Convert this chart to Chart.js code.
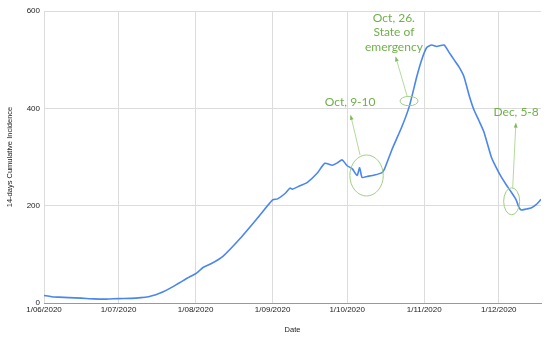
<!DOCTYPE html>
<html>
<head>
<meta charset="utf-8">
<script src="https://cdn.jsdelivr.net/npm/chart.js@4/dist/chart.umd.min.js"></script>
<style>
  html, body { margin: 0; padding: 0; background: #fff; }
  #wrap { width: 550px; height: 338px; }
</style>
</head>
<body>
<div id="wrap"><canvas id="grafico" width="550" height="338"></canvas></div>
<script>
// Days since 1 June 2020
const days = [0, 3, 6, 10, 15, 20, 25, 30, 35, 39, 42, 45, 48, 51, 54, 56, 59, 61, 62, 64, 67,
  72, 79, 86, 92, 94, 97, 99, 100, 103, 106, 110, 113, 116, 118, 120, 122, 124, 126, 127, 128,
  130, 133, 136, 137, 140, 144, 147, 150, 152, 154, 156, 158, 161, 163, 165, 167, 169, 171, 173,
  175, 177, 180, 182, 184, 186, 188, 190, 191, 192, 194, 196, 198, 200];
const incidence = [15.5, 13, 12, 11, 10, 8.5, 8, 9, 9.5, 11, 13, 17, 23, 31, 40, 46, 55, 60, 64, 73, 80,
  96, 133, 175, 212, 214, 225, 236, 234, 241, 248, 267, 287, 283, 288, 294, 282, 276, 262, 278, 258,
  260, 263, 268, 275, 315, 362, 404, 465, 500, 525, 530, 527, 530, 515, 500, 485, 465, 428, 397,
  375, 352, 300, 278, 259, 243, 228, 212, 198, 191, 193, 195, 202, 213];

// Eje x: inicio de cada mes
const monthStarts = [0, 30, 61, 92, 122, 153, 183];
const monthLabels = ['1/06/2020', '1/07/2020', '1/08/2020', '1/09/2020', '1/10/2020', '1/11/2020', '1/12/2020'];
const yTicks = [0, 200, 400, 600];

// Notas en verde (posiciones en coordenadas de datos)
const notes = [
  { lines: ['Oct, 9-10'], at: [123.2, 413], from: [127.2, 304], to: [123.4, 386], ell: [129.8, 262, 16.7, 20.5] },
  { lines: ['Oct, 26.', 'State of', 'emergency'], at: [140.8, 586], from: [146.2, 424], to: [141.5, 506], ell: [146.9, 415, 9, 4.7] },
  { lines: ['Dec, 5-8'], at: [190, 393], from: [188.6, 236], to: [189.9, 370], ell: [188.2, 209, 8, 13.5] }
];

const notesPlugin = {
  id: 'notas',
  afterDatasetsDraw(chart) {
    const c = chart.ctx, xs = chart.scales.x, ys = chart.scales.y;
    const px = d => xs.getPixelForValue(d), py = v => ys.getPixelForValue(v);
    c.save();
    notes.forEach(n => {
      // elipse
      c.strokeStyle = '#9fcf7f';
      c.lineWidth = 1;
      c.beginPath();
      c.ellipse(px(n.ell[0]), py(n.ell[1]), n.ell[2], n.ell[3], 0, 0, Math.PI * 2);
      c.stroke();
      // flecha
      const x1 = px(n.from[0]), y1 = py(n.from[1]), x2 = px(n.to[0]), y2 = py(n.to[1]);
      c.strokeStyle = '#b5d99c';
      c.beginPath(); c.moveTo(x1, y1); c.lineTo(x2, y2); c.stroke();
      const a = Math.atan2(y2 - y1, x2 - x1);
      c.fillStyle = '#7fb85a';
      c.beginPath();
      c.moveTo(x2, y2);
      c.lineTo(x2 - 5 * Math.cos(a - 0.4), y2 - 5 * Math.sin(a - 0.4));
      c.lineTo(x2 - 5 * Math.cos(a + 0.4), y2 - 5 * Math.sin(a + 0.4));
      c.closePath(); c.fill();
      // texto
      c.fillStyle = '#6fb04a';
      c.font = '12px Lato';
      c.textAlign = 'center';
      c.textBaseline = 'middle';
      const cx = px(n.at[0]);
      let cy = py(n.at[1]);
      n.lines.forEach(t => { c.fillText(t, cx, cy); cy += 14.5; });
    });
    c.restore();
  }
};

new Chart(document.getElementById('grafico'), {
  type: 'line',
  data: {
    datasets: [{
      label: '14-days Cumulative Incidence',
      data: days.map((d, i) => ({ x: d, y: incidence[i] })),
      borderColor: '#4a86f0',
      borderWidth: 1.6,
      pointRadius: 0,
      tension: 0.2,
      fill: false
    }]
  },
  options: {
    responsive: false,
    animation: false,
    layout: { padding: { left: 0, right: 9, top: 11, bottom: 0 } },
    plugins: { legend: { display: false }, tooltip: { enabled: false } },
    scales: {
      x: {
        type: 'linear',
        min: 0,
        max: 200,
        afterBuildTicks: s => { s.ticks = monthStarts.map(v => ({ value: v })); },
        afterFit: s => { s.height = 35; },
        ticks: {
          callback: v => monthLabels[monthStarts.indexOf(v)],
          font: { family: 'Liberation Sans', size: 8 },
          color: '#222',
          padding: 2,
          maxRotation: 0,
          autoSkip: false
        },
        grid: { color: '#dcdcdc', lineWidth: 1, drawTicks: false },
        border: { color: '#999', width: 1 },
        title: {
          display: true,
          text: 'Date',
          font: { family: 'Liberation Sans', size: 7.5 },
          color: '#222',
          padding: { top: 0, bottom: 4 }
        }
      },
      y: {
        min: 0,
        max: 600,
        afterBuildTicks: s => { s.ticks = yTicks.map(v => ({ value: v })); },
        afterFit: s => { s.width = 44; },
        ticks: {
          font: { family: 'Liberation Sans', size: 8 },
          color: '#222',
          padding: 4
        },
        grid: { color: '#dcdcdc', lineWidth: 1, drawTicks: false },
        border: { display: false },
        title: {
          display: true,
          text: '14-days Cumulative Incidence',
          font: { family: 'Liberation Sans', size: 7.5 },
          color: '#222',
          padding: { top: 5, bottom: 0 }
        }
      }
    }
  },
  plugins: [notesPlugin]
});
</script>
</body>
</html>
